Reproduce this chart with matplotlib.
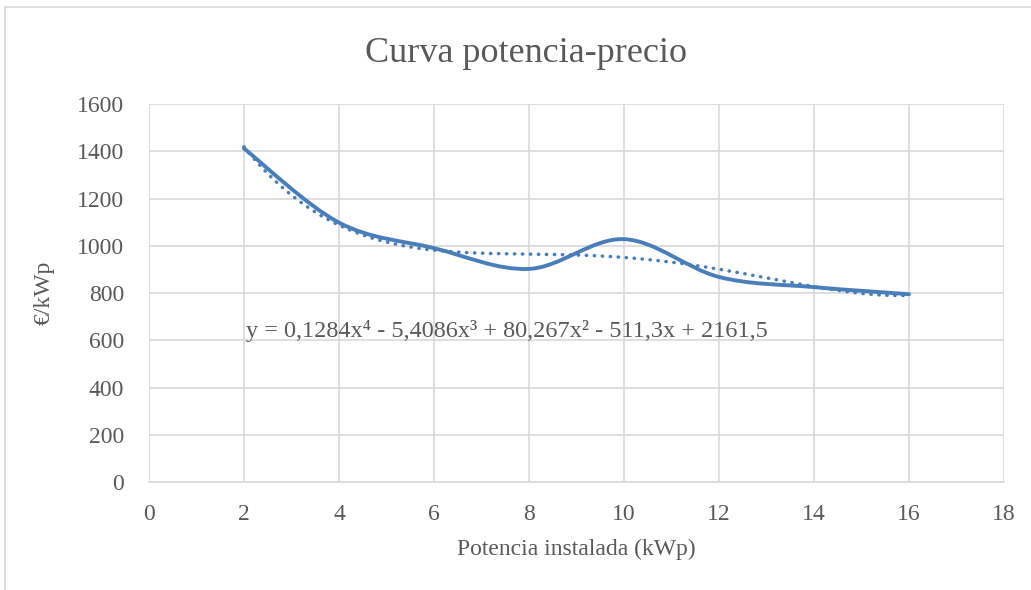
import matplotlib.pyplot as plt
import matplotlib.patches as mpatches
from matplotlib.path import Path
import numpy as np

# data
potencia = [2, 4, 6, 8, 10, 12, 14, 16]
precio = [1412, 1098, 990, 902, 1028, 868, 825, 795]
# polynomial trendline shown on the chart (highest power first)
coef = [0.1284, -5.4086, 80.267, -511.3, 2161.5]
eq_text = "y = 0,1284x⁴ - 5,4086x³ + 80,267x² - 511,3x + 2161,5"

blue = "#4a7ebb"
grey = "#595959"
plt.rcParams['font.family'] = ['Liberation Serif', 'DejaVu Serif']

fig = plt.figure(figsize=(10.31, 5.90), dpi=100)
ax = fig.add_axes([0.1445, 0.183, 0.8293, 0.6407])

# Excel-like smoothed line: cubic bezier between points
x = np.array(potencia, dtype=float)
y = np.array(precio, dtype=float)
verts = [(x[0], y[0])]
codes = [Path.MOVETO]
n = len(x)
for i in range(n - 1):
    p0 = np.array([x[max(i - 1, 0)], y[max(i - 1, 0)]])
    p1 = np.array([x[i], y[i]])
    p2 = np.array([x[i + 1], y[i + 1]])
    p3 = np.array([x[min(i + 2, n - 1)], y[min(i + 2, n - 1)]])
    c1 = p1 + (p2 - p0) / 6
    c2 = p2 - (p3 - p1) / 6
    verts += [tuple(c1), tuple(c2), tuple(p2)]
    codes += [Path.CURVE4] * 3
ax.add_patch(mpatches.PathPatch(Path(verts, codes), facecolor='none',
                                edgecolor=blue, lw=2.8, capstyle='round',
                                joinstyle='round', zorder=3))

# trendline
xt = np.linspace(potencia[0], potencia[-1], 300)
ax.plot(xt, np.polyval(coef, xt), color=blue, lw=2.5,
        linestyle=(0, (0.1, 2.2)), dash_capstyle='round', zorder=2)

ax.text(2.05, 640, eq_text, fontsize=17.5, color=grey, ha='left', va='center')

ax.set_xlim(0, 18)
ax.set_ylim(0, 1600)
ax.set_xticks(range(0, 19, 2))
ax.set_yticks(range(0, 1601, 200))
ax.grid(True, color='#d9d9d9', lw=1.2)
ax.set_axisbelow(True)
for s in ['top', 'right', 'left']:
    ax.spines[s].set_visible(False)
ax.spines['bottom'].set_color('#d9d9d9')
ax.spines['bottom'].set_linewidth(1.2)
ax.tick_params(axis='y', length=0, labelsize=17, labelcolor=grey, pad=18)
ax.tick_params(axis='x', length=0, labelsize=17, labelcolor=grey, pad=16)

fig.text(0.51, 0.91, "Curva potencia-precio", fontsize=26, color=grey,
         ha='center', va='center')
ax.set_xlabel("Potencia instalada (kWp)", fontsize=17, color=grey, labelpad=10)
ax.set_ylabel("€/kWp", fontsize=17, color=grey, labelpad=16)

# chart area border
fig.patches.append(mpatches.Rectangle((0.005, -0.05), 1.2, 1.038, fill=False,
                                      edgecolor='#d9d9d9', lw=1.2,
                                      transform=fig.transFigure))

fig.savefig("out.png", dpi=100)
